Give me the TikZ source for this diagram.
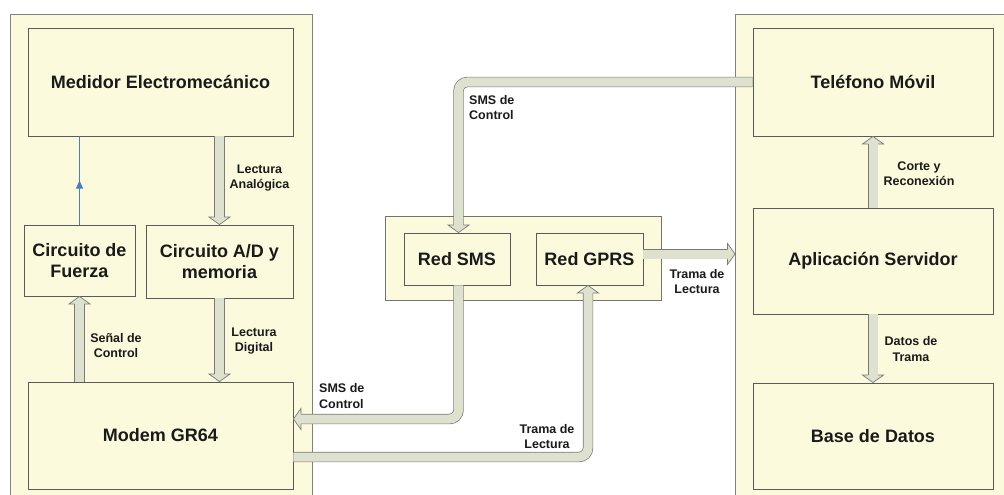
\documentclass[tikz,border=0pt]{standalone}
\usepackage{fontspec}
\setmainfont{Liberation Sans}
\usetikzlibrary{calc,arrows.meta,decorations.markings}
\definecolor{boxfill}{HTML}{FCFADC}
\definecolor{boxline}{HTML}{5A5A5A}
\definecolor{panelline}{HTML}{808080}
\definecolor{afill}{HTML}{DDE1CD}
\definecolor{aline}{HTML}{7A7A7A}
\definecolor{blueline}{HTML}{4A7EBB}
\definecolor{txt}{HTML}{1A1A1A}
\tikzset{
 panel/.style={draw=panelline, fill=boxfill, line width=1pt, anchor=north west, inner sep=0pt},
 blk/.style={draw=boxline, fill=boxfill, line width=0.9pt, align=center, font=\fontsize{18}{21}\selectfont\bfseries, text=txt, inner sep=0pt},
 lbl/.style={align=center, font=\fontsize{12.5}{15.5}\selectfont\bfseries, text=txt, inner sep=0pt},
 fat/.style={draw=aline, double=afill, double distance=9pt, line width=0.7pt, shorten >=7.5pt},
 headsty/.style={fill=afill, draw=aline, line width=0.7pt, line join=miter},
}
\newcommand\fhead[2]{\filldraw[headsty, shift={(#1)}, rotate=#2] (-4.85,-7.5) -- (-10.5,-7.5) -- (0,0) -- (10.5,-7.5) -- (4.85,-7.5);}
\begin{document}
\begin{tikzpicture}[x=1pt,y=-1pt]
\useasboundingbox (0,0) rectangle (1004,495);
\clip (0,0) rectangle (1004,495);
\fill[white] (0,0) rectangle (1004,495);
% panels
\node[panel, minimum width=302pt, minimum height=520pt] (LP) at (10,14) {};
\node[panel, minimum width=300pt, minimum height=520pt] (RP) at (735,14) {};
\node[panel, draw=boxline!85, minimum width=276pt, minimum height=84pt] (Mid) at (385,216) {};
% blocks
\node[blk, minimum width=265pt, minimum height=108pt] (Med) at (160.5,82) {Medidor Electromecánico};
\node[blk, minimum width=111pt, minimum height=71pt] (CF) at (79.5,260.5) {Circuito de\\Fuerza};
\node[blk, minimum width=147pt, minimum height=73pt] (CAD) at (219.5,261.5) {Circuito A/D y\\memoria};
\node[blk, minimum width=265pt, minimum height=107pt] (Mod) at (160.5,435.5) {Modem GR64};
\node[blk, minimum width=106pt, minimum height=52pt] (SMS) at (457,259) {Red SMS};
\node[blk, minimum width=107pt, minimum height=52pt] (GPRS) at (589.5,259) {Red GPRS};
\node[blk, minimum width=240pt, minimum height=108pt] (Tel) at (873,82) {Teléfono Móvil};
\node[blk, minimum width=240pt, minimum height=106pt] (App) at (873,261) {Aplicación Servidor};
\node[blk, minimum width=240pt, minimum height=106pt] (BD) at (873,436) {Base de Datos};
% thin blue arrow
\draw[blueline, line width=1pt, postaction={decorate}, decoration={markings, mark=at position 0.5 with {\arrow{Triangle[width=7pt,length=8pt]}}}] (CF.north) -- (CF.north |- Med.south);
% fat arrows
\coordinate (laTop) at (CAD.north |- Med.south);
\draw[fat] (laTop) -- (CAD.north); \fhead{CAD.north}{0}
\coordinate (ldTip) at (CAD.south |- Mod.north);
\draw[fat] (CAD.south) -- (ldTip); \fhead{ldTip}{0}
\coordinate (scBot) at (CF.south |- Mod.north);
\draw[fat] (scBot) -- (CF.south); \fhead{CF.south}{180}
\draw[fat] (App.north) -- (Tel.south); \fhead{Tel.south}{180}
\draw[fat] (App.south) -- (BD.north); \fhead{BD.north}{0}
\coordinate (smsTop) at ($(SMS.north)+(1.5,0)$);
\draw[fat, rounded corners=9pt] (Tel.west) -| (smsTop); \fhead{smsTop}{0}
\coordinate (gA) at ($(GPRS.east)+(0,-5)$);
\coordinate (gB) at (RP.west |- gA);
\draw[fat] (gA) -- (gB); \fhead{gB}{90}
\coordinate (smsBot) at ($(SMS.south)+(1.5,0)$);
\coordinate (mS) at ($(Mod.east)+(0,-16.5)$);
\draw[fat, rounded corners=9pt] (smsBot) |- (mS); \fhead{mS}{-90}
\coordinate (mT) at ($(Mod.east)+(0,21.5)$);
\coordinate (gBot) at ($(GPRS.south)+(-1.5,0)$);
\draw[fat, rounded corners=9pt] (mT) -| (gBot); \fhead{gBot}{180}
% labels
\node[lbl] (l1) at (259.5,178) {Lectura\\Analógica};
\node[lbl] (l2) at (116,345.5) {Señal de\\Control};
\node[lbl] (l3) at (254,341) {Lectura\\Digital};
\node[lbl] (l4) at (919,173.5) {Corte y\\Reconexión};
\node[lbl] (l5) at (911,349) {Datos de\\Trama};
\node[lbl, anchor=west, align=left] (l6) at (469,107.5) {SMS de\\Control};
\node[lbl] (l7) at (697,281.5) {Trama de\\Lectura};
\node[lbl, anchor=west, align=left] (l8) at (319,396) {SMS de\\Control};
\node[lbl] (l9) at (547,436.5) {Trama de\\Lectura};
\end{tikzpicture}
\end{document}
